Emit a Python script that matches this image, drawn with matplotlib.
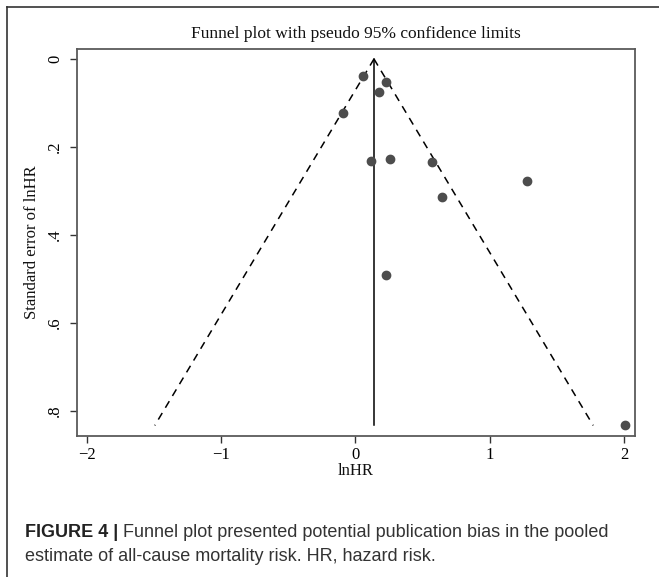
import numpy as np
import matplotlib
matplotlib.use("Agg")
import matplotlib.pyplot as plt
from matplotlib.lines import Line2D

# study estimates
lnhr = [0.058, 0.227, 0.175, -0.095, 0.113, 0.257, 0.568, 1.28, 0.644, 0.225, 2.007]
se = [0.038, 0.053, 0.076, 0.123, 0.232, 0.228, 0.235, 0.277, 0.314, 0.492, 0.833]
pooled = 0.138

xticks = [-2, -1, 0, 1, 2]
yticks = [0, 0.2, 0.4, 0.6, 0.8]
ytick_labels = ["0", ".2", ".4", ".6", ".8"]

serif = ["Liberation Serif", "DejaVu Serif"]
sans = ["Liberation Sans", "DejaVu Sans"]

W, H = 659, 577
fig = plt.figure(figsize=(W / 100, H / 100), dpi=100)
ax = fig.add_axes([77 / W, 1 - 436 / H, (635 - 77) / W, (436 - 49) / H])

# pseudo 95% limits
se_max = max(se)
se_line = np.array([0, se_max])
ax.plot(pooled - 1.96 * se_line, se_line, color="black", lw=1.1, ls=(0, (5, 4)))
ax.plot(pooled + 1.96 * se_line, se_line, color="black", lw=1.1, ls=(0, (5, 4)))
ax.plot([pooled, pooled], [0, se_max], color="black", lw=1.1)

ax.plot(lnhr, se, "o", color="#4d4d4d", ms=6, mec="#4d4d4d", zorder=3)

ax.set_xlim(-2.074, 2.082)
ax.set_ylim(0.857, -0.0227)
ax.set_xticks(xticks)
ax.set_yticks(yticks)
ax.set_yticklabels(ytick_labels)
for lab in ax.get_xticklabels() + ax.get_yticklabels():
    lab.set_family(serif)
    lab.set_fontsize(12)
for lab in ax.get_yticklabels():
    lab.set_rotation(90)
    lab.set_va("center")
ax.tick_params(length=5, width=1, color="#333333", pad=3)
ax.tick_params(axis="y", pad=5)
for s in ax.spines.values():
    s.set_color("#5a5a5a")
    s.set_linewidth(1.3)

cx = (77 + 635) / 2 / W
fig.text(cx, 1 - 34 / H, "Funnel plot with pseudo 95% confidence limits",
         ha="center", va="center", family=serif, fontsize=12.5, color="#111111")
fig.text(cx, 1 - 471 / H, "lnHR", ha="center", va="center", family=serif,
         fontsize=12, color="#111111")
fig.text(32 / W, 1 - 242 / H, "Standard error of lnHR", ha="center", va="center",
         rotation=90, family=serif, fontsize=12, color="#111111")

# caption
t1 = fig.text(25 / W, 1 - 537 / H, "FIGURE 4 | ", family=sans, fontsize=13,
              fontweight="bold", color="#222222", va="baseline")
plt.annotate("Funnel plot presented potential publication bias in the pooled",
             xy=(1, 0), xycoords=t1, va="bottom", ha="left", family=sans,
             fontsize=13, color="#333333")
fig.text(25 / W, 1 - 561 / H, "estimate of all-cause mortality risk. HR, hazard risk.",
         family=sans, fontsize=13, color="#333333", va="baseline")

# frame of the figure panel
fig.add_artist(Line2D([7 / W, 7 / W], [0, 1 - 7 / H], color="#333333", lw=1.2))
fig.add_artist(Line2D([7 / W, 1], [1 - 7 / H, 1 - 7 / H], color="#333333", lw=1.2))

fig.savefig("out.png", dpi=100)
